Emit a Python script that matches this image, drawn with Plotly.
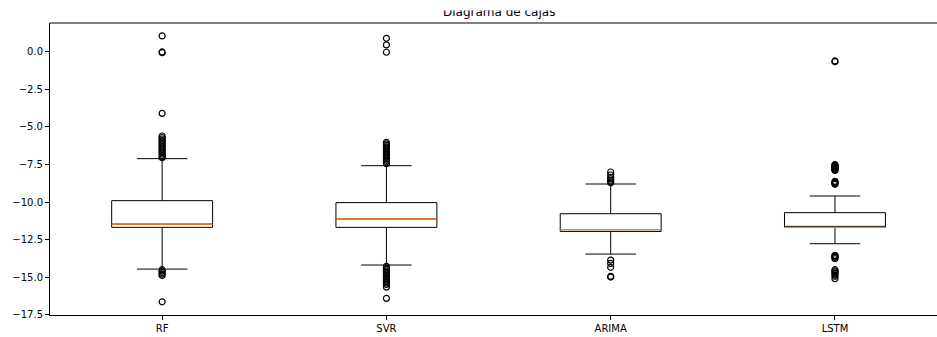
import plotly.graph_objects as go

# ---------------- data ----------------
models = ["RF", "SVR", "ARIMA", "LSTM"]
positions = [1, 2, 3, 4]

q1 = [-11.69, -11.69, -11.96, -11.69]
median = [-11.47, -11.13, -11.84, -11.69]
q3 = [-9.91, -10.04, -10.78, -10.71]
lower_whisker = [-14.47, -14.20, -13.47, -12.78]
upper_whisker = [-7.11, -7.58, -8.80, -9.60]

outliers_rf = [1.07, 0.0, -0.05, -4.09,
               -5.60, -5.70, -5.80, -5.90, -6.00, -6.10, -6.20, -6.30, -6.40,
               -6.50, -6.60, -6.70, -6.80, -6.90, -7.00, -7.05,
               -14.51, -14.60, -14.70, -14.80, -14.89, -16.65]
outliers_svr = [0.91, 0.47, -0.02,
                -6.02, -6.12, -6.22, -6.32, -6.42, -6.52, -6.62, -6.72, -6.82,
                -6.92, -7.02, -7.12, -7.22, -7.32, -7.45,
                -14.29, -14.39, -14.49, -14.59, -14.69, -14.79, -14.89, -14.99,
                -15.09, -15.19, -15.29, -15.39, -15.49, -15.67, -16.42]
outliers_arima = [-8.00, -8.20, -8.35, -8.45, -8.55, -8.65, -8.72,
                  -13.87, -14.09, -14.35, -14.95, -15.00]
outliers_lstm = [-0.60, -0.65,
                 -7.51, -7.56, -7.61, -7.66, -7.71, -7.76, -7.81, -7.86, -7.89,
                 -8.62, -8.67, -8.72, -8.77, -8.82,
                 -13.55, -13.60, -13.65, -13.70, -13.78,
                 -14.51, -14.58, -14.66, -14.75, -14.85, -14.95, -15.11]
outliers = [outliers_rf, outliers_svr, outliers_arima, outliers_lstm]

y_ticks = [0.0, -2.5, -5.0, -7.5, -10.0, -12.5, -15.0, -17.5]
title_text = "Diagrama de cajas"

# ---------------- style ----------------
box_width = 0.45
FONT = "DejaVu Sans"

fig = go.Figure()

fig.add_trace(go.Box(
    x=positions, q1=q1, median=median, q3=q3,
    lowerfence=lower_whisker, upperfence=upper_whisker,
    width=box_width, whiskerwidth=0.5,
    line=dict(color="black", width=1),
    fillcolor="rgba(255,255,255,0)",
    boxpoints=False, showlegend=False, hoverinfo="skip",
))

# median lines (orange, as in matplotlib)
mx, my = [], []
for p, m in zip(positions, median):
    mx += [p - box_width / 2, p + box_width / 2, None]
    my += [m, m, None]
fig.add_trace(go.Scatter(
    x=mx, y=my, mode="lines",
    line=dict(color="#ff7f0e", width=1.3),
    showlegend=False, hoverinfo="skip",
))

# fliers
fx, fy = [], []
for p, vals in zip(positions, outliers):
    fx += [p] * len(vals)
    fy += vals
fig.add_trace(go.Scatter(
    x=fx, y=fy, mode="markers",
    marker=dict(symbol="circle-open", size=6, color="black",
                line=dict(width=1.2, color="black")),
    showlegend=False, hoverinfo="skip",
))

fig.update_layout(
    width=937, height=337,
    margin=dict(l=50, r=0, t=23, b=22),
    paper_bgcolor="white", plot_bgcolor="white",
    font=dict(family=FONT, size=10, color="black"),
    showlegend=False,
    xaxis=dict(
        range=[0.5, 4.455], tickvals=positions, ticktext=models,
        showline=True, linecolor="black", linewidth=1,
        ticks="outside", ticklen=4, tickwidth=1, tickcolor="black",
        showgrid=False, zeroline=False, tickfont=dict(size=10, family=FONT),
    ),
    yaxis=dict(
        range=[-17.53, 1.93], tickvals=y_ticks, tickformat=".1f",
        showline=True, linecolor="black", linewidth=1,
        ticks="outside", ticklen=4, tickwidth=1, tickcolor="black",
        showgrid=False, zeroline=False, tickfont=dict(size=10, family=FONT),
    ),
    shapes=[dict(type="line", xref="paper", yref="paper", x0=0, x1=1, y0=1, y1=1,
                 line=dict(color="black", width=1))],
    annotations=[
        dict(text=title_text, xref="x", yref="paper",
             x=sum(positions) / len(positions), y=1, yanchor="bottom",
             yshift=2, showarrow=False, font=dict(family=FONT, size=12, color="black")),
        # the reference image is cropped just through the title
        dict(text=" ", xref="x", yref="paper",
             x=sum(positions) / len(positions), y=1, yanchor="bottom",
             yshift=12, width=260, height=11, borderpad=0, bgcolor="white",
             showarrow=False, font=dict(family=FONT, size=12)),
    ],
)

fig.write_html("out.html")
